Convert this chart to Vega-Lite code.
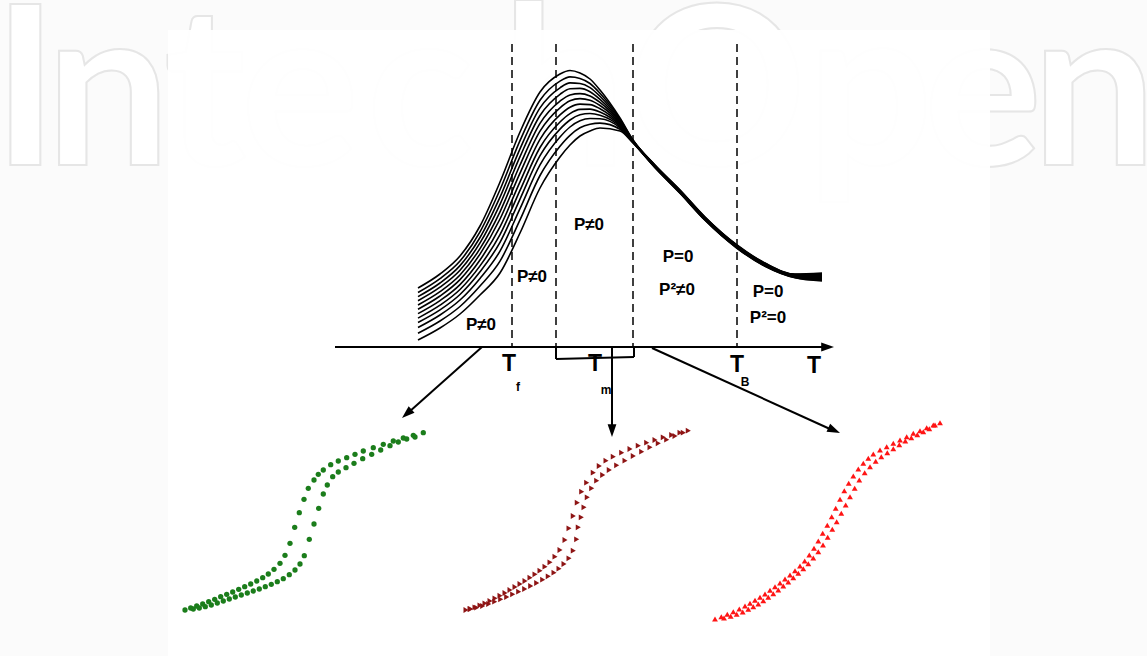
{
  "$schema": "https://vega.github.io/schema/vega-lite/v6.json",
  "width": 1147,
  "height": 656,
  "autosize": {"type": "none"},
  "padding": 0,
  "background": "#fbfbfb",
  "config": {"view": {"stroke": null}},
  "datasets": {
    "wm": [
      {"ch": "I", "x": 25.5, "y": 165}, {"ch": "n", "x": 108, "y": 165}, {"ch": "t", "x": 205, "y": 165},
      {"ch": "e", "x": 300, "y": 165}, {"ch": "c", "x": 420, "y": 165}, {"ch": "h", "x": 564, "y": 165},
      {"ch": "O", "x": 717, "y": 165}, {"ch": "p", "x": 870, "y": 165}, {"ch": "e", "x": 983, "y": 165},
      {"ch": "n", "x": 1094, "y": 165}
    ],
    "box": [{"x": 168, "y": 30, "x2": 990, "y2": 656}],
    "curves": [
      {"x": 418, "c0": 288, "c1": 292.5, "c2": 296.6, "c3": 300.7, "c4": 305, "c5": 309.2, "c6": 313.6, "c7": 318.1, "c8": 322.5, "c9": 327.5, "c10": 333.2, "c11": 340},
      {"x": 440, "c0": 274, "c1": 278.6, "c2": 283, "c3": 287.2, "c4": 291.7, "c5": 296, "c6": 300.6, "c7": 305.2, "c8": 309.9, "c9": 315, "c10": 321, "c11": 328},
      {"x": 460, "c0": 256, "c1": 261, "c2": 265.6, "c3": 270.2, "c4": 275, "c5": 279.6, "c6": 284.6, "c7": 289.5, "c8": 294.5, "c9": 300, "c10": 306.5, "c11": 314},
      {"x": 480, "c0": 226, "c1": 231.9, "c2": 237.5, "c3": 242.9, "c4": 248.6, "c5": 254.1, "c6": 260, "c7": 265.9, "c8": 271.8, "c9": 278.4, "c10": 286, "c11": 295},
      {"x": 500, "c0": 182, "c1": 189.8, "c2": 197.1, "c3": 204.3, "c4": 211.8, "c5": 219, "c6": 226.9, "c7": 234.6, "c8": 242.4, "c9": 251.1, "c10": 261.2, "c11": 273},
      {"x": 520, "c0": 132, "c1": 140.7, "c2": 148.8, "c3": 156.7, "c4": 165, "c5": 173.1, "c6": 181.8, "c7": 190.4, "c8": 199.1, "c9": 208.7, "c10": 219.9, "c11": 233},
      {"x": 540, "c0": 92, "c1": 100.3, "c2": 107.9, "c3": 115.5, "c4": 123.4, "c5": 131.1, "c6": 139.3, "c7": 147.5, "c8": 155.7, "c9": 164.9, "c10": 175.5, "c11": 188},
      {"x": 560, "c0": 74, "c1": 81.1, "c2": 87.8, "c3": 94.3, "c4": 101.1, "c5": 107.8, "c6": 114.9, "c7": 122, "c8": 129.1, "c9": 137, "c10": 146.2, "c11": 157},
      {"x": 570, "c0": 70.5, "c1": 76.9, "c2": 82.9, "c3": 88.8, "c4": 94.9, "c5": 100.8, "c6": 107.2, "c7": 113.6, "c8": 120, "c9": 127, "c10": 135.3, "c11": 145},
      {"x": 580, "c0": 73, "c1": 78.4, "c2": 83.5, "c3": 88.4, "c4": 93.6, "c5": 98.6, "c6": 104.1, "c7": 109.4, "c8": 114.8, "c9": 120.8, "c10": 127.8, "c11": 136},
      {"x": 590, "c0": 79, "c1": 83.5, "c2": 87.6, "c3": 91.7, "c4": 96, "c5": 100.2, "c6": 104.6, "c7": 109.1, "c8": 113.5, "c9": 118.5, "c10": 124.2, "c11": 131},
      {"x": 600, "c0": 90, "c1": 93.3, "c2": 96.3, "c3": 99.3, "c4": 102.4, "c5": 105.5, "c6": 108.7, "c7": 112, "c8": 115.2, "c9": 118.8, "c10": 123.1, "c11": 128},
      {"x": 620, "c0": 118, "c1": 119.1, "c2": 120.2, "c3": 121.2, "c4": 122.3, "c5": 123.3, "c6": 124.4, "c7": 125.5, "c8": 126.6, "c9": 127.9, "c10": 129.3, "c11": 131},
      {"x": 633, "c0": 140, "c1": 140.3, "c2": 140.5, "c3": 140.7, "c4": 141, "c5": 141.2, "c6": 141.5, "c7": 141.7, "c8": 142, "c9": 142.3, "c10": 142.6, "c11": 143},
      {"x": 655, "c0": 165, "c1": 165.3, "c2": 165.5, "c3": 165.8, "c4": 166, "c5": 166.3, "c6": 166.5, "c7": 166.8, "c8": 167, "c9": 167.3, "c10": 167.5, "c11": 167.8},
      {"x": 680, "c0": 190, "c1": 190.3, "c2": 190.6, "c3": 190.9, "c4": 191.2, "c5": 191.5, "c6": 191.8, "c7": 192.1, "c8": 192.4, "c9": 192.7, "c10": 193, "c11": 193.3},
      {"x": 705, "c0": 217, "c1": 217.3, "c2": 217.6, "c3": 217.9, "c4": 218.2, "c5": 218.5, "c6": 218.8, "c7": 219.1, "c8": 219.4, "c9": 219.7, "c10": 220, "c11": 220.3},
      {"x": 737, "c0": 245, "c1": 245.3, "c2": 245.6, "c3": 245.9, "c4": 246.2, "c5": 246.5, "c6": 246.8, "c7": 247.1, "c8": 247.4, "c9": 247.7, "c10": 248, "c11": 248.3},
      {"x": 765, "c0": 263, "c1": 263.3, "c2": 263.6, "c3": 263.9, "c4": 264.2, "c5": 264.5, "c6": 264.8, "c7": 265.1, "c8": 265.4, "c9": 265.7, "c10": 266, "c11": 266.3},
      {"x": 795, "c0": 274, "c1": 274.3, "c2": 274.7, "c3": 275, "c4": 275.4, "c5": 275.7, "c6": 276.1, "c7": 276.4, "c8": 276.8, "c9": 277.1, "c10": 277.5, "c11": 277.8},
      {"x": 822, "c0": 273, "c1": 273.7, "c2": 274.5, "c3": 275.2, "c4": 275.9, "c5": 276.6, "c6": 277.4, "c7": 278.1, "c8": 278.8, "c9": 279.6, "c10": 280.3, "c11": 281}
    ],
    "dash": [
      {"x": 512, "y": 44, "y2": 347}, {"x": 556, "y": 44, "y2": 347},
      {"x": 633, "y": 44, "y2": 347}, {"x": 737, "y": 44, "y2": 347}
    ],
    "segs": [
      {"x": 335, "y": 347, "x2": 824, "y2": 347},
      {"x": 482, "y": 347, "x2": 409, "y2": 412},
      {"x": 612, "y": 347, "x2": 612, "y2": 427},
      {"x": 652, "y": 348, "x2": 830, "y2": 429},
      {"x": 556, "y": 347, "x2": 556, "y2": 359},
      {"x": 556, "y": 359, "x2": 634, "y2": 357},
      {"x": 634, "y": 357, "x2": 634, "y2": 347}
    ],
    "heads": [
      {"x": 834, "y": 347, "dir": 90},
      {"x": 402, "y": 418, "dir": 228.4},
      {"x": 612, "y": 437, "dir": 180},
      {"x": 840, "y": 433, "dir": 114.4}
    ],
    "plab": [
      {"t": "P≠0", "x": 481, "y": 325}, {"t": "P≠0", "x": 532, "y": 277}, {"t": "P≠0", "x": 589, "y": 225},
      {"t": "P=0", "x": 678, "y": 257}, {"t": "P²≠0", "x": 677, "y": 290},
      {"t": "P=0", "x": 768, "y": 292}, {"t": "P²=0", "x": 768, "y": 318}
    ],
    "tlab": [
      {"t": "T", "x": 509, "y": 364}, {"t": "T", "x": 595, "y": 364},
      {"t": "T", "x": 737, "y": 365}, {"t": "T", "x": 814, "y": 366}
    ],
    "sub": [
      {"t": "f", "x": 518, "y": 387}, {"t": "m", "x": 606, "y": 390}, {"t": "B", "x": 745, "y": 382}
    ],
    "green": [
      {"x": 423.3, "y": 432.7}, {"x": 413.3, "y": 435.3}, {"x": 403.3, "y": 438}, {"x": 393.3, "y": 441}, {"x": 383.3, "y": 444.3},
      {"x": 373.3, "y": 447.7}, {"x": 363.3, "y": 451}, {"x": 355, "y": 454.3}, {"x": 346.7, "y": 457.7}, {"x": 338.3, "y": 461},
      {"x": 330.7, "y": 464.7}, {"x": 323.3, "y": 470}, {"x": 318.3, "y": 474.3}, {"x": 314, "y": 480}, {"x": 308.3, "y": 488.3},
      {"x": 304, "y": 499.3}, {"x": 299.3, "y": 512.7}, {"x": 294.7, "y": 527.3}, {"x": 290, "y": 543.3}, {"x": 285, "y": 555.3},
      {"x": 280, "y": 563.3}, {"x": 274, "y": 569.3}, {"x": 268.3, "y": 574}, {"x": 262.7, "y": 577.7}, {"x": 256.7, "y": 581},
      {"x": 250.7, "y": 584}, {"x": 244.7, "y": 586.7}, {"x": 238.7, "y": 589.3}, {"x": 232.7, "y": 592}, {"x": 226.7, "y": 594.3},
      {"x": 220.7, "y": 596.7}, {"x": 214.7, "y": 599.3}, {"x": 208.7, "y": 601.7}, {"x": 202.7, "y": 604}, {"x": 196.7, "y": 606},
      {"x": 190.7, "y": 608}, {"x": 185, "y": 610},
      {"x": 415, "y": 437}, {"x": 406.7, "y": 439}, {"x": 398.3, "y": 442}, {"x": 390, "y": 445.7}, {"x": 380.7, "y": 450},
      {"x": 371.7, "y": 454.3}, {"x": 362.7, "y": 458.7}, {"x": 354, "y": 463.3}, {"x": 346, "y": 467.7}, {"x": 338.3, "y": 472},
      {"x": 332.7, "y": 476.7}, {"x": 327.3, "y": 485}, {"x": 323.3, "y": 494}, {"x": 318.7, "y": 508.3}, {"x": 314, "y": 524},
      {"x": 309.3, "y": 539.3}, {"x": 304.3, "y": 555.7}, {"x": 300, "y": 564}, {"x": 295, "y": 570}, {"x": 289.3, "y": 574.7},
      {"x": 283.3, "y": 578.7}, {"x": 277.3, "y": 581.7}, {"x": 271.3, "y": 584.3}, {"x": 265.3, "y": 586.7}, {"x": 259.3, "y": 589},
      {"x": 253.3, "y": 591}, {"x": 247.3, "y": 593}, {"x": 241.3, "y": 595}, {"x": 235.3, "y": 597}, {"x": 229.3, "y": 599},
      {"x": 223.3, "y": 601}, {"x": 217.3, "y": 603}, {"x": 211.3, "y": 605}, {"x": 205.3, "y": 606.7}, {"x": 199.3, "y": 608},
      {"x": 193.3, "y": 609}
    ],
    "darkred": [
      {"x": 688.3, "y": 430.7}, {"x": 680, "y": 432.7}, {"x": 671.7, "y": 435}, {"x": 663.3, "y": 437.3}, {"x": 655, "y": 440},
      {"x": 646.7, "y": 442.7}, {"x": 638.3, "y": 445.7}, {"x": 630, "y": 449}, {"x": 621.7, "y": 452.7}, {"x": 613.3, "y": 456.7},
      {"x": 606, "y": 460.7}, {"x": 599.3, "y": 466}, {"x": 593.3, "y": 472.7}, {"x": 586.7, "y": 482.7}, {"x": 581.7, "y": 491.7},
      {"x": 577.3, "y": 502.7}, {"x": 573.3, "y": 516}, {"x": 569, "y": 528.3}, {"x": 565, "y": 540}, {"x": 560, "y": 550},
      {"x": 555, "y": 556.7}, {"x": 550, "y": 562.3}, {"x": 545, "y": 566.7}, {"x": 540, "y": 570.7}, {"x": 535, "y": 574.3},
      {"x": 530, "y": 577.7}, {"x": 525, "y": 581}, {"x": 520, "y": 584}, {"x": 515, "y": 587}, {"x": 510, "y": 590},
      {"x": 505, "y": 593}, {"x": 500, "y": 595.7}, {"x": 495, "y": 598.3}, {"x": 490, "y": 601}, {"x": 485, "y": 603.3},
      {"x": 480, "y": 605.3}, {"x": 475, "y": 607.3}, {"x": 470, "y": 609}, {"x": 466, "y": 610},
      {"x": 683.3, "y": 432.7}, {"x": 675, "y": 436}, {"x": 666.7, "y": 439.7}, {"x": 658.3, "y": 443.3}, {"x": 650, "y": 447.3},
      {"x": 641.7, "y": 451.7}, {"x": 633.3, "y": 456}, {"x": 625, "y": 460.7}, {"x": 616.7, "y": 465.3}, {"x": 609.3, "y": 470},
      {"x": 602.7, "y": 475}, {"x": 596.7, "y": 480.7}, {"x": 591.7, "y": 488.3}, {"x": 587.3, "y": 497.3}, {"x": 584, "y": 507.3},
      {"x": 581.3, "y": 517.3}, {"x": 578.3, "y": 527.3}, {"x": 576.7, "y": 539.3}, {"x": 573.3, "y": 550.7}, {"x": 569, "y": 558.3},
      {"x": 564, "y": 564}, {"x": 559, "y": 568.7}, {"x": 554, "y": 572.7}, {"x": 548.3, "y": 576.3}, {"x": 542.7, "y": 579.7},
      {"x": 536.7, "y": 583}, {"x": 530.7, "y": 586}, {"x": 524.7, "y": 589}, {"x": 518.7, "y": 591.7}, {"x": 512.7, "y": 594.3},
      {"x": 506.7, "y": 597}, {"x": 500.7, "y": 599.3}, {"x": 494.7, "y": 601.7}, {"x": 488.7, "y": 604}, {"x": 482.7, "y": 606},
      {"x": 476.7, "y": 607.7}, {"x": 470.7, "y": 609}
    ],
    "red": [
      {"x": 940, "y": 422.7}, {"x": 933.3, "y": 425}, {"x": 926.7, "y": 427.7}, {"x": 920, "y": 430.7}, {"x": 913.3, "y": 433.3},
      {"x": 906.7, "y": 436.7}, {"x": 900, "y": 440}, {"x": 893.3, "y": 443.3}, {"x": 886.7, "y": 446.7}, {"x": 880, "y": 450},
      {"x": 873.3, "y": 454}, {"x": 868.3, "y": 458.3}, {"x": 863.3, "y": 463.3}, {"x": 858.3, "y": 469}, {"x": 853.3, "y": 476},
      {"x": 848.7, "y": 483.3}, {"x": 844.3, "y": 490.7}, {"x": 840, "y": 499.3}, {"x": 835.7, "y": 508.3}, {"x": 831.7, "y": 516.7},
      {"x": 827.3, "y": 525.3}, {"x": 822.7, "y": 533.3}, {"x": 818.3, "y": 541}, {"x": 814, "y": 548.3}, {"x": 809.3, "y": 555},
      {"x": 804.7, "y": 561}, {"x": 800, "y": 566}, {"x": 795, "y": 570.7}, {"x": 790, "y": 575}, {"x": 785, "y": 579},
      {"x": 780, "y": 583}, {"x": 775, "y": 586.7}, {"x": 770, "y": 590.3}, {"x": 765, "y": 594}, {"x": 760, "y": 597.3},
      {"x": 755, "y": 600.3}, {"x": 750, "y": 603.3}, {"x": 745, "y": 606}, {"x": 739.3, "y": 609}, {"x": 733.3, "y": 611.7},
      {"x": 727.3, "y": 614.3}, {"x": 721.3, "y": 616.7}, {"x": 715, "y": 619},
      {"x": 935, "y": 425}, {"x": 929.3, "y": 428.7}, {"x": 923.3, "y": 431.7}, {"x": 917.3, "y": 434.7}, {"x": 911.3, "y": 437.7},
      {"x": 905.3, "y": 441}, {"x": 899.3, "y": 444.7}, {"x": 893.3, "y": 448.7}, {"x": 887.3, "y": 452.7}, {"x": 881.3, "y": 456.7},
      {"x": 875.7, "y": 461.3}, {"x": 870, "y": 466.7}, {"x": 864.7, "y": 472.7}, {"x": 859.3, "y": 480}, {"x": 854.7, "y": 488.3},
      {"x": 850, "y": 496.7}, {"x": 845.7, "y": 505}, {"x": 841.3, "y": 513.3}, {"x": 836.7, "y": 521.7}, {"x": 832.3, "y": 529.3},
      {"x": 827.7, "y": 537.3}, {"x": 823, "y": 545}, {"x": 818.3, "y": 551.7}, {"x": 813.3, "y": 558}, {"x": 808.3, "y": 563.7},
      {"x": 803.3, "y": 568.7}, {"x": 798.3, "y": 573.3}, {"x": 793.3, "y": 577.7}, {"x": 788.3, "y": 582}, {"x": 783.3, "y": 586},
      {"x": 778.3, "y": 590}, {"x": 773.3, "y": 593.7}, {"x": 768.3, "y": 597.3}, {"x": 763.3, "y": 600.7}, {"x": 758.3, "y": 604},
      {"x": 753.3, "y": 606.7}, {"x": 748.3, "y": 609.3}, {"x": 742.7, "y": 612}, {"x": 736.7, "y": 614.3}, {"x": 730.7, "y": 616.3},
      {"x": 724, "y": 618}
    ]
  },
  "encoding": {
    "x": {"field": "x", "type": "quantitative", "axis": null, "scale": {"domain": [0, 1147], "nice": false, "zero": false}},
    "y": {"field": "y", "type": "quantitative", "axis": null, "scale": {"domain": [0, 656], "nice": false, "zero": false, "reverse": true}}
  },
  "layer": [
    {
      "data": {"name": "wm"},
      "mark": {"type": "text", "font": "Lato", "fontWeight": "bold", "fontSize": 222, "align": "center", "baseline": "alphabetic", "fill": "#ffffff", "stroke": "#e6e6e6", "strokeWidth": 2},
      "encoding": {"text": {"field": "ch"}}
    },
    {
      "data": {"name": "box"},
      "mark": {"type": "rect", "fill": "#ffffff", "opacity": 0.93},
      "encoding": {"x2": {"field": "x2"}, "y2": {"field": "y2"}}
    },
    {
      "data": {"name": "curves"},
      "transform": [{"fold": ["c0", "c1", "c2", "c3", "c4", "c5", "c6", "c7", "c8", "c9", "c10", "c11"], "as": ["c", "y"]}],
      "mark": {"type": "line", "color": "#000000", "strokeWidth": 1.6, "interpolate": "monotone"},
      "encoding": {"detail": {"field": "c"}}
    },
    {
      "data": {"name": "dash"},
      "mark": {"type": "rule", "color": "#000000", "strokeWidth": 1.5, "strokeDash": [8, 5]},
      "encoding": {"y2": {"field": "y2"}}
    },
    {
      "data": {"name": "segs"},
      "mark": {"type": "rule", "color": "#000000", "strokeWidth": 2},
      "encoding": {"x2": {"field": "x2"}, "y2": {"field": "y2"}}
    },
    {
      "data": {"name": "heads"},
      "mark": {"type": "point", "shape": "M0,0L0.55,1.6L-0.55,1.6Z", "size": 256, "filled": true, "color": "#000000", "opacity": 1},
      "encoding": {"angle": {"field": "dir", "type": "quantitative", "scale": null}}
    },
    {
      "data": {"name": "green"},
      "mark": {"type": "point", "shape": "circle", "filled": true, "size": 28, "color": "#1b7d1b", "opacity": 1}
    },
    {
      "data": {"name": "darkred"},
      "mark": {"type": "point", "shape": "triangle-right", "filled": true, "size": 34, "color": "#8e1414", "opacity": 1}
    },
    {
      "data": {"name": "red"},
      "mark": {"type": "point", "shape": "triangle-up", "filled": true, "size": 34, "color": "#ff1414", "opacity": 1}
    },
    {
      "data": {"name": "plab"},
      "mark": {"type": "text", "font": "Liberation Sans", "fontWeight": "bold", "fontSize": 17, "align": "center", "baseline": "middle", "color": "#000000"},
      "encoding": {"text": {"field": "t"}}
    },
    {
      "data": {"name": "tlab"},
      "mark": {"type": "text", "font": "Liberation Sans", "fontWeight": "bold", "fontSize": 23, "align": "center", "baseline": "middle", "color": "#000000"},
      "encoding": {"text": {"field": "t"}}
    },
    {
      "data": {"name": "sub"},
      "mark": {"type": "text", "font": "Liberation Sans", "fontWeight": "bold", "fontSize": 12, "align": "center", "baseline": "middle", "color": "#000000"},
      "encoding": {"text": {"field": "t"}}
    }
  ]
}
